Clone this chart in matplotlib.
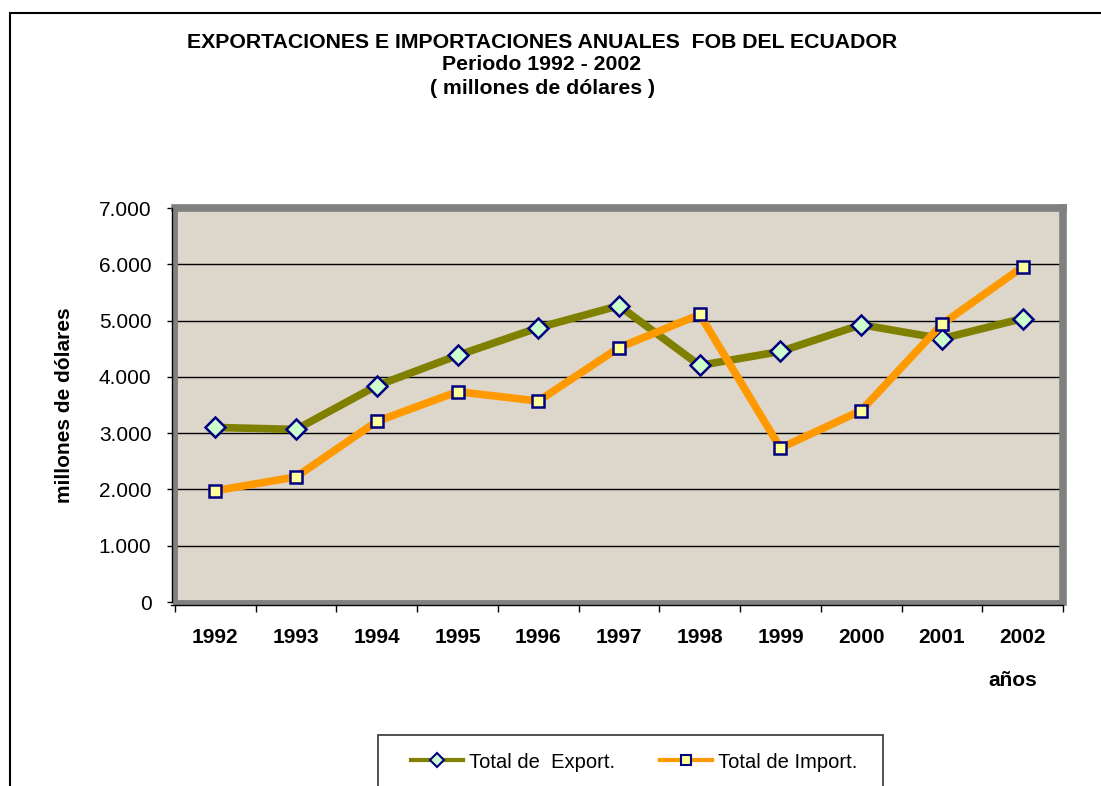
import numpy as np
import matplotlib
matplotlib.use('Agg')
import matplotlib.pyplot as plt
from matplotlib.ticker import FuncFormatter, MultipleLocator
from matplotlib.lines import Line2D
from matplotlib.patches import Rectangle
from matplotlib.transforms import offset_copy

plt.rcParams['font.family'] = ['Liberation Sans', 'DejaVu Sans']

# datos (millones de dólares)
anios = ['1992', '1993', '1994', '1995', '1996', '1997', '1998', '1999', '2000', '2001', '2002']
exportaciones = [3101, 3066, 3843, 4381, 4873, 5264, 4203, 4451, 4927, 4678, 5036]
importaciones = [1977, 2223, 3209, 3737, 3570, 4520, 5108, 2736, 3401, 4936, 5953]

fig = plt.figure(figsize=(11.01, 7.86), dpi=100)
ax = fig.add_axes([175/1101, 1-602/786, (1063-175)/1101, (602-208)/786])
ax.set_facecolor('#ddd6ca')

x = np.arange(len(anios))
ax.plot(x, exportaciones, color='#808000', lw=5.5, marker='D', ms=10,
        mfc='#ccffcc', mec='#000080', mew=1.8, zorder=4, solid_joinstyle='round')
ax.plot(x, importaciones, color='#ff9900', lw=5.5, marker='s', ms=8.5,
        mfc='#ffff99', mec='#000080', mew=1.8, zorder=5, solid_joinstyle='round')

ax.set_xlim(-0.5, 10.5)
ax.set_ylim(0, 7000)
ax.yaxis.set_major_locator(MultipleLocator(1000))
ax.yaxis.set_major_formatter(FuncFormatter(lambda v, p: f'{int(v):,}'.replace(',', '.')))
ax.grid(axis='y', color='black', lw=1)
ax.set_axisbelow(True)

ax.set_xticks(x)
ax.set_xticklabels(anios, fontsize=15, fontweight='bold')
ax.set_xticks(np.arange(-0.5, 11, 1), minor=True)
ax.tick_params(axis='x', which='major', length=0, pad=19)
ax.tick_params(axis='x', which='minor', length=7, color='black', width=1)
ax.tick_params(axis='y', length=6, color='black', width=1, labelsize=15, pad=11)

# marco gris tipo 3D
for s in ['top', 'right']:
    ax.spines[s].set_color('#808080')
    ax.spines[s].set_linewidth(5.5)
for s in ['left', 'bottom']:
    ax.spines[s].set_color('#808080')
    ax.spines[s].set_linewidth(3.5)
tl = offset_copy(ax.transAxes, fig=fig, x=-3, y=0, units='dots')
ax.plot([0, 0], [0, 1], color='black', lw=1, transform=tl, clip_on=False, zorder=6)
tb = offset_copy(ax.transAxes, fig=fig, x=0, y=-3, units='dots')
ax.plot([-0.004, 1], [0, 0], color='black', lw=1, transform=tb, clip_on=False, zorder=6)

ax.set_ylabel('millones de dólares', fontsize=15, fontweight='bold', labelpad=18)

fig.text(542/1101, 1-43/786, 'EXPORTACIONES E IMPORTACIONES ANUALES  FOB DEL ECUADOR',
         ha='center', va='center', fontsize=15.3, fontweight='bold')
fig.text(542/1101, 1-65/786, 'Periodo 1992 - 2002',
         ha='center', va='center', fontsize=15.3, fontweight='bold')
fig.text(542/1101, 1-88/786, '( millones de dólares )',
         ha='center', va='center', fontsize=15.3, fontweight='bold')
fig.text(1013/1101, 1-680/786, 'años', ha='center', va='center', fontsize=15, fontweight='bold')

# borde exterior
fig.patches.append(Rectangle((10/1101, -0.1), 1.2, 1-13/786+0.1, transform=fig.transFigure,
                             fill=False, edgecolor='black', lw=1.5))
# caja de leyenda
fig.patches.append(Rectangle((378/1101, -0.02), (883-378)/1101, (786-735)/786+0.02,
                             transform=fig.transFigure, facecolor='white',
                             edgecolor='#333333', lw=1.2))
handles = [
    Line2D([], [], color='#808000', lw=3, marker='D', ms=7, mfc='#ccffcc', mec='#000080', mew=1.5),
    Line2D([], [], color='#ff9900', lw=3, marker='s', ms=7, mfc='#ffff99', mec='#000080', mew=1.5),
]
fig.legend(handles, ['Total de  Export.', 'Total de Import.'], loc='center',
           bbox_to_anchor=(634/1101, 1-762/786), ncol=2, frameon=False, fontsize=14.5,
           handlelength=2.6, handletextpad=0.3, columnspacing=2.2)

fig.savefig('out.png', dpi=100)
